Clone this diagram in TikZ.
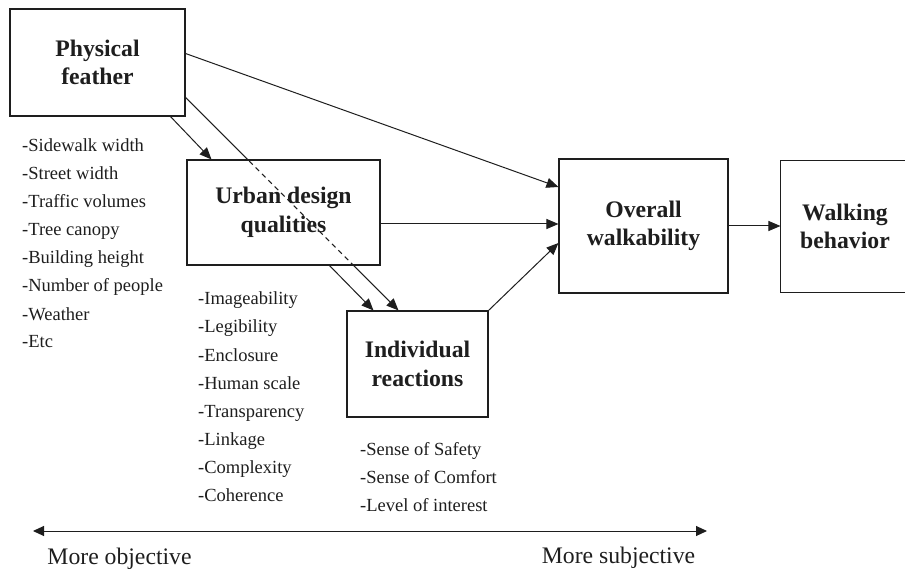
\documentclass[tikz,border=0pt]{standalone}
\usepackage{fontspec}
\setmainfont{Liberation Serif}
\usepackage{tikz}
\usetikzlibrary{
	arrows.meta,
	backgrounds,
	calc
}
\definecolor{InkGray}{RGB}{30,30,30}

\begin{document}
\begin{tikzpicture}[x=1pt, y=-1pt,
		box/.style={draw=InkGray, line width=1.1pt, fill=white, inner sep=0pt, align=center,
			text=InkGray, font=\fontsize{23.7}{28.5}\selectfont\bfseries},
		listitem/.style={anchor=base west, inner sep=0pt, text=InkGray, font=\fontsize{18.5}{22}\selectfont},
		axislabel/.style={anchor=base, inner sep=0pt, text=InkGray, font=\fontsize{23.7}{28}\selectfont},
		link/.style={draw=InkGray, line width=1pt, -{Triangle[length=12pt,width=10pt]}}]
		\useasboundingbox (0,0) rectangle (905,569);
		
		% boxes
		\node[box, minimum width=175, minimum height=107] (phys) at (97.5,62.5) {Physical\\feather};
		\node[box, minimum width=193, minimum height=105] (urban) at (283.5,212.5) {Urban design\\qualities};
		\node[box, minimum width=141, minimum height=106] (indiv) at (417.5,364) {Individual\\reactions};
		\node[box, minimum width=169, minimum height=134] (over) at (643.5,226) {Overall\\walkability};
		% walking box runs off the right edge
		\node[box, draw=none, minimum width=128, minimum height=131] (walk) at (845,226.5) {Walking\\behavior};
		\draw[InkGray, line width=1.1pt] ([xshift=5pt]walk.north east) -- (walk.north west)
			-- (walk.south west) -- ([xshift=5pt]walk.south east);
		
		% lists under the boxes
		\foreach \txt [count=\i] in {Sidewalk width, Street width, Traffic volumes, Tree canopy,
			Building height, Number of people, Weather, Etc}
			\node[listitem] (physitem\i) at (22,124+28*\i) {-\txt};
		\foreach \txt [count=\i] in {Imageability, Legibility, Enclosure, Human scale,
			Transparency, Linkage, Complexity, Coherence}
			\node[listitem] (urbanitem\i) at (198,277+28*\i) {-\txt};
		\foreach \txt [count=\i] in {Sense of Safety, Sense of Comfort, Level of interest}
			\node[listitem] (indivitem\i) at (360,427+28*\i) {-\txt};
		
		% links
		\draw[link] ([yshift=9pt]phys.east) -- ([yshift=39pt]over.west);
		\draw[link] ([xshift=73pt]phys.south) -- ([xshift=-72pt]urban.north);
		\coordinate (uo) at ([yshift=-11.5pt]urban.east);
		\draw[link] (uo) -- (uo -| over.west);
		\draw[link] ([xshift=46pt]urban.south) -- ([xshift=-44pt]indiv.north);
		\draw[link] (indiv.north east) -- ([yshift=-17pt]over.west);
		\draw[link] (over.east) -- (over.east -| walk.west);
		
		% direct link, dashed where it crosses the urban box
		\begin{scope}[on background layer]
			\draw[link] ([yshift=-35pt]phys.east) -- ([xshift=-19pt]indiv.north);
		\end{scope}
		\begin{scope}
			\clip (urban.north west) rectangle (urban.south east);
			\draw[InkGray, line width=1pt, dash pattern=on 5pt off 4pt]
				([yshift=-35pt]phys.east) -- ([xshift=-19pt]indiv.north);
		\end{scope}
		
		% objective / subjective scale
		\coordinate (objend) at (33,531);
		\coordinate (subjend) at (707,531);
		\draw[InkGray, line width=1pt, {Triangle[length=11pt,width=10pt]}-{Triangle[length=11pt,width=10pt]}] (objend) -- (subjend);
		\node[axislabel] (objlabel) at (119.5,564) {More objective};
		\node[axislabel] (subjlabel) at (618.5,563.5) {More subjective};
\end{tikzpicture}
\end{document}
